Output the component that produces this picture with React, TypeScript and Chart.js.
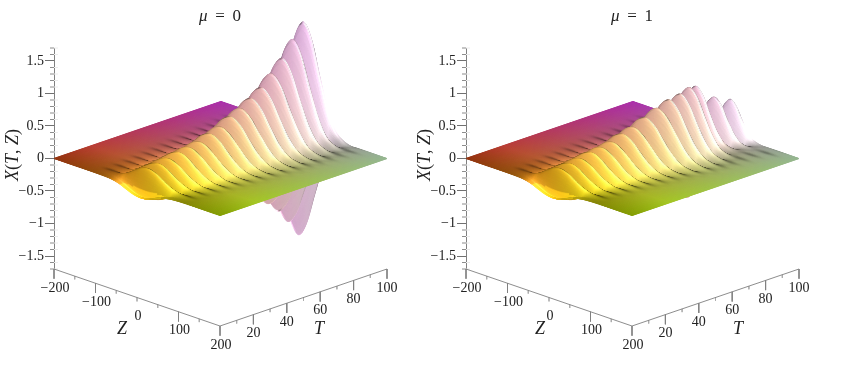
import React, { useEffect, useRef } from "react";
import { Chart, registerables, ScatterController } from "chart.js";

Chart.register(...registerables);

// ---------- values ----------
const crestT = [0, 2, 5.1, 8.3, 11.4, 14.6, 17.7, 20.9, 24, 27.2, 30.3, 33.4, 36.5, 39.6, 42.8, 46, 49.1, 52.3, 55.4, 58.6, 61.7, 64.9, 68, 71.1, 74.2, 77.3, 80.5, 83.6, 86.8, 89.9, 93.1, 96.3, 99.4, 100];
const crestMu0 = [-0.15, -0.17, 0.25, -0.24, 0.27, -0.26, 0.29, -0.28, 0.33, -0.31, 0.35, -0.34, 0.38, -0.4, 0.45, -0.46, 0.5, -0.53, 0.6, -0.62, 0.67, -0.7, 0.77, -0.8, 0.88, -0.93, 1.04, -1.1, 1.22, -1.32, 1.46, -1.58, 1.67, 1.6];
const crestMu1 = [-0.15, -0.17, 0.25, -0.24, 0.27, -0.26, 0.29, -0.28, 0.33, -0.31, 0.35, -0.34, 0.38, -0.4, 0.45, -0.46, 0.5, -0.53, 0.6, -0.62, 0.7, -0.72, 0.78, -0.78, 0.82, -0.8, 0.86, -0.78, 0.8, -0.68, 0.62, -0.56, 0.56, 0.5];
const centerT = [0, 50, 62, 75, 81, 87, 94, 100];
const centerMu0 = [8, 6, 4, 3, 2, 2, 2, 2];
const centerMu1 = [8, 8, 16, 20, 16, 6, 28, 40];
const streakT = [0, 100];
const streakZ = [88, 125];
const widthT = [0, 60, 80, 100];
const widthMu0 = [88, 108, 106, 92];
const widthMu1 = [88, 106, 88, 60];
const profileU = [-1.3, -1, -0.8, -0.6, -0.4, -0.2, 0, 0.2, 0.4, 0.6, 0.8, 1, 1.2, 1.4];
const profileP = [0, 0.02, 0.08, 0.26, 0.58, 0.88, 1, 0.86, 0.56, 0.28, 0.1, 0.03, 0, 0];
const xTicks = [-1.5, -1, -0.5, 0, 0.5, 1, 1.5];
const xMinorTicks = [-1.7, -1.6, -1.4, -1.3, -1.2, -1.1, -0.9, -0.8, -0.7, -0.6, -0.4, -0.3, -0.2, -0.1, 0.1, 0.2, 0.3, 0.4, 0.6, 0.7, 0.8, 0.9, 1.1, 1.2, 1.3, 1.4, 1.6, 1.7];
const zTicks = [-200, -100, 0, 100, 200];
const zMinorTicks = [-150, -50, 50, 150];
const tTicks = [20, 40, 60, 80, 100];
const tMinorTicks = [10, 30, 50, 70, 90];

const cornerLeft = [190, 68, 22];
const cornerBack = [172, 48, 172];
const cornerFront = [170, 204, 8];
const cornerRight = [150, 184, 146];

const serif = '"Liberation Serif", serif';

// ---------- projection: a chart value from (T, Z, X) ----------
const toXValue = (t: number, z: number) => 1.67 * t + 0.415 * (z + 200);
const toYValue = (t: number, z: number, x: number) => x + (57 / 65) * (t / 100 - (z + 200) / 400);

function piecewise(xs: number[], ys: number[], v: number) {
  if (v <= xs[0]) return ys[0];
  for (let i = 1; i < xs.length; i++) {
    if (v <= xs[i]) return ys[i - 1] + ((ys[i] - ys[i - 1]) * (v - xs[i - 1])) / (xs[i] - xs[i - 1]);
  }
  return ys[ys.length - 1];
}
function smoothNodes(xs: number[], ys: number[], v: number) {
  if (v <= xs[0] || v >= xs[xs.length - 1]) return 0;
  let i = 1;
  while (v > xs[i]) i++;
  const h = xs[i] - xs[i - 1];
  const s = (v - xs[i - 1]) / h;
  const a = ys[Math.max(i - 2, 0)], b = ys[i - 1], c = ys[i], d = ys[Math.min(i + 1, ys.length - 1)];
  return 0.5 * (2 * b + (c - a) * s + (2 * a - 5 * b + 4 * c - d) * s * s + (3 * b - a - 3 * c + d) * s * s * s);
}
function crestBlend(ys: number[], t: number) {
  let i = 1;
  while (i < crestT.length - 1 && t > crestT[i]) i++;
  const s = Math.min(1, Math.max(0, (t - crestT[i - 1]) / (crestT[i] - crestT[i - 1])));
  return ys[i - 1] + ((ys[i] - ys[i - 1]) * (1 - Math.cos(Math.PI * s))) / 2;
}

const lightVec = [0.25, 0.85, 0.47];

function buildMesh(crest: number[], centers: number[], widths: number[]) {
  const tSteps: number[] = [];
  for (let t = 100; t >= -0.001; t -= 0.2) tSteps.push(Math.max(t, 0));
  const zSteps: number[] = [];
  for (let z = -200; z <= 200; z += 2.5) zSteps.push(z);
  const cols = tSteps.length, rows = zSteps.length;
  const height = (t: number, z: number, car: number) => {
    const u = (z - piecewise(centerT, centers, t)) / piecewise(widthT, widths, t);
    return car * smoothNodes(profileU, profileP, u);
  };
  const points: { x: number; y: number }[] = [];
  const colors: string[] = [];
  const peaks = crestT.filter((_, i) => crest[i] > 0);
  for (let j = 0; j < rows; j++) {
    const z = zSteps[j];
    for (let i = 0; i < cols; i++) {
      const t = tSteps[i];
      const car = crestBlend(crest, t);
      const x = height(t, z, car);
      points.push({ x: toXValue(t, z), y: toYValue(t, z, x) });

      const d = 0.1;
      const dXdT = (height(t + d, z, crestBlend(crest, t + d)) - height(t - d, z, crestBlend(crest, t - d))) / (2 * d);
      const dXdZ = (height(t, z + 1, car) - height(t, z - 1, car)) / 2;
      const u = (z - piecewise(centerT, centers, t)) / piecewise(widthT, widths, t);
      const su = (z - piecewise(centerT, centers, t) * 0.5) / piecewise(streakT, streakZ, t);
      const p = smoothNodes(profileU, profileP, u);
      const tn = t / 100, zn = (z + 200) / 400;
      const base = [0, 1, 2].map(
        (k) => (1 - tn) * (1 - zn) * cornerLeft[k] + tn * (1 - zn) * cornerBack[k] + (1 - tn) * zn * cornerFront[k] + tn * zn * cornerRight[k]
      );
      const gT = 29.5 * dXdT, gZ = 118 * dXdZ;
      const norm = Math.sqrt(1 + gT * gT + gZ * gZ);
      const nl = (gT * lightVec[0] - gZ * lightVec[1] + lightVec[2]) / norm;
      const nv = ((1 + 1.93 * gT - 1.94 * gZ) * 0.345) / norm;
      const reach = Math.min(1, p * 5);
      const lift = 1 + 0.6 * reach;
      let gain = lift * (0.6 + 0.85 * Math.max(0, nl));
      if (car < 0 && x < -0.05) gain *= 1.25;
      gain *= 0.78 + 0.22 * Math.min(1, t / 22);
      if (t > 5) gain *= 0.5 + 0.5 * Math.min(1, Math.abs(nv) / 0.25);
      let nearest = 999;
      for (const pk of peaks) if (Math.abs(t - pk - 1.6) < Math.abs(nearest)) nearest = t - pk - 1.6;
      const band = Math.exp(-(((Math.abs(su) - 1.02) / 0.17) ** 2)) * Math.exp(-((nearest / 1.2) ** 2));
      gain *= 1 - 0.3 * band * (1 - 0.6 * reach);
      const spec = Math.pow(Math.max(0, nl), 4);
      const white = 0.6 * spec * reach + 0.28 * reach * tn * tn;
      const c = base.map((v) => {
        const g = Math.min(255, v * gain);
        return Math.round(g + (255 - g) * white);
      });
      colors.push(`rgb(${c[0]},${c[1]},${c[2]})`);
    }
  }
  return { points, colors, rows, cols };
}

class SurfaceController extends ScatterController {
  static id = "surface";
  static defaults = { ...ScatterController.defaults, showLine: false };
  static overrides = ScatterController.overrides;
  draw() {
    const meta = this.getMeta();
    const pts = meta.data as any[];
    const mesh = (this.getDataset() as any).mesh;
    const ctx = this.chart.ctx;
    ctx.save();
    ctx.lineWidth = 0.7;
    ctx.lineJoin = "round";
    for (let j = 0; j < mesh.rows - 1; j++) {
      for (let i = 0; i < mesh.cols - 1; i++) {
        const a = pts[j * mesh.cols + i], b = pts[j * mesh.cols + i + 1];
        const c = pts[(j + 1) * mesh.cols + i + 1], d = pts[(j + 1) * mesh.cols + i];
        const col = mesh.colors[j * mesh.cols + i];
        ctx.fillStyle = col;
        ctx.strokeStyle = col;
        ctx.beginPath();
        ctx.moveTo(a.x, a.y);
        ctx.lineTo(b.x, b.y);
        ctx.lineTo(c.x, c.y);
        ctx.lineTo(d.x, d.y);
        ctx.closePath();
        ctx.fill();
        ctx.stroke();
      }
    }
    ctx.restore();
  }
}
Chart.register(SurfaceController as any);

const axisStyle = { showLine: true, pointRadius: 0, borderColor: "#808080", borderWidth: 0.9, clip: false as any };
const lightStyle = { ...axisStyle, borderColor: "#a8a8a8", borderWidth: 0.8 };
const faintStyle = { ...axisStyle, borderColor: "#ececec", borderWidth: 1 };

function axisSets() {
  const floor = -1.7;
  const sets: any[] = [];
  sets.push({ ...axisStyle, data: [{ x: toXValue(0, -200), y: toYValue(0, -200, floor) }, { x: toXValue(0, 200), y: toYValue(0, 200, floor) }] });
  sets.push({ ...axisStyle, data: [{ x: toXValue(0, 200), y: toYValue(0, 200, floor) }, { x: toXValue(100, 200), y: toYValue(100, 200, floor) }] });
  const drop = (t: number, z: number, len: number, style: any) =>
    sets.push({ ...style, data: [{ x: toXValue(t, z), y: toYValue(t, z, floor) }, { x: toXValue(t, z), y: toYValue(t, z, floor) - len }] });
  zTicks.forEach((z) => drop(0, z, z === 0 ? 0.06 : 0.15, z === 0 ? lightStyle : axisStyle));
  zMinorTicks.forEach((z) => drop(0, z, 0.05, lightStyle));
  tTicks.forEach((t) => drop(t, 200, 0.15, axisStyle));
  tMinorTicks.forEach((t) => drop(t, 200, 0.05, lightStyle));
  xMinorTicks.forEach((v) => {
    sets.push({ ...axisStyle, data: [{ x: -4, y: v }, { x: 0, y: v }] });
    sets.push({ ...faintStyle, data: [{ x: 0, y: v }, { x: 4, y: v }] });
  });
  return sets;
}

function mixedText(ctx: CanvasRenderingContext2D, parts: [string, boolean][], size: number, cx: number, cy: number, rot = 0) {
  ctx.save();
  ctx.translate(cx, cy);
  ctx.rotate(rot);
  ctx.fillStyle = "#222";
  ctx.textBaseline = "middle";
  ctx.textAlign = "left";
  const fontOf = (it: boolean) => `${it ? "italic " : ""}${size}px ${serif}`;
  let total = 0;
  parts.forEach(([s, it]) => {
    ctx.font = fontOf(it);
    total += ctx.measureText(s).width;
  });
  let x = -total / 2;
  parts.forEach(([s, it]) => {
    ctx.font = fontOf(it);
    ctx.fillText(s, x, 0);
    x += ctx.measureText(s).width;
  });
  ctx.restore();
}

function textPlugin(title: string, zLabelX: number, tLabelX: number) {
  return {
    id: "panelText",
    afterDraw(chart: any) {
      const { ctx, scales } = chart;
      const px = (t: number, z: number) => scales.x.getPixelForValue(toXValue(t, z));
      const py = (t: number, z: number) => scales.y.getPixelForValue(toYValue(t, z, -1.7));
      const left = scales.x.left;
      mixedText(ctx, [["\u03bc", true], ["\u2009 = \u2009" + title, false]], 17, px(0, 200), 17);
      mixedText(ctx, [["X", true], ["(", false], ["T", true], [", ", false], ["Z", true], [")", false]], 18, 13, 155, -Math.PI / 2);
      const lab = (s: string, x: number, y: number) => mixedText(ctx, [[s, false]], 14, x, y);
      zTicks.forEach((z) => lab(z < 0 ? "\u2212" + -z : String(z), px(0, z) + 1, py(0, z) + 19));
      tTicks.forEach((t) => lab(String(t), px(t, 200), py(t, 200) + 19));
      mixedText(ctx, [["Z", true]], 18, left + zLabelX, 329);
      mixedText(ctx, [["T", true]], 18, left + tLabelX, 329);
    },
  };
}

function Panel({ crest, centers, widths, title, left, width, zLabelX, tLabelX }: any) {
  const ref = useRef<HTMLCanvasElement>(null);
  useEffect(() => {
    const mesh = buildMesh(crest, centers, widths);
    const chart = new Chart(ref.current!, {
      type: "scatter",
      data: {
        datasets: [
          { type: "surface", data: mesh.points, mesh, pointRadius: 0, clip: false, order: 5 } as any,
          ...axisSets(),
        ],
      },
      options: {
        responsive: false,
        animation: false,
        events: [],
        layout: { padding: { left: 0, top: 48, bottom: 96, right: width - 387 } },
        plugins: { legend: { display: false }, tooltip: { enabled: false }, title: { display: false } },
        scales: {
          x: { type: "linear", display: false, min: 0, max: 333 },
          y: {
            type: "linear",
            min: -1.7,
            max: 1.7,
            afterFit: (s: any) => {
              s.width = 54;
            },
            afterBuildTicks: (s: any) => {
              s.ticks = xTicks.map((value) => ({ value }));
            },
            border: { color: "#808080", width: 1 },
            grid: { drawOnChartArea: false, tickLength: 9, tickColor: "#707070", tickWidth: 1 },
            ticks: {
              padding: 1,
              color: "#222",
              font: { family: serif, size: 14 },
              callback: (v: any) => (v < 0 ? "\u2212" + -v : String(v)),
            },
          },
        },
      } as any,
      plugins: [textPlugin(title, zLabelX, tLabelX) as any],
    });
    return () => chart.destroy();
  }, []);
  return (
    <canvas
      ref={ref}
      width={width}
      height={365}
      style={{ position: "absolute", left, top: 0, width, height: 365, filter: "blur(0.45px)" }}
    />
  );
}

export default function App() {
  return (
    <div style={{ position: "fixed", left: 0, top: 0, width: 843, height: 365, background: "#fff", overflow: "hidden" }}>
      <Panel crest={crestMu0} centers={centerMu0} widths={widthMu0} title="0" left={0} width={412} zLabelX={68} tLabelX={265} />
      <Panel crest={crestMu1} centers={centerMu1} widths={widthMu1} title="1" left={412} width={431} zLabelX={74} tLabelX={272} />
    </div>
  );
}
